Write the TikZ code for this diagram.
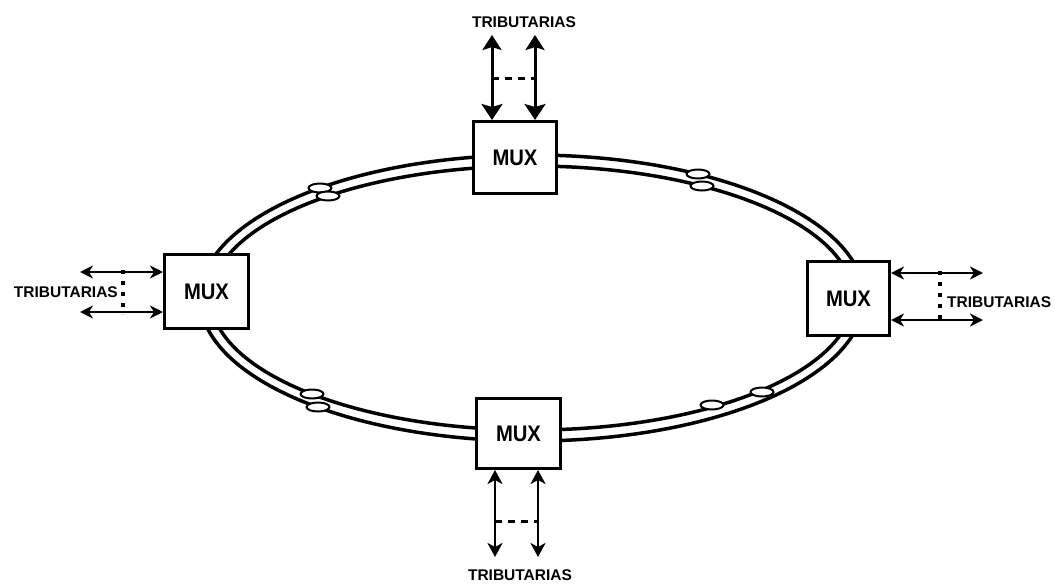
\documentclass[tikz,border=0pt]{standalone}
\usepackage{fontspec}
\setmainfont{Liberation Sans}
\newfontfamily\muxfont[FakeStretch=0.9]{Liberation Sans}
\usetikzlibrary{arrows.meta}
\begin{document}
\begin{tikzpicture}[x=1pt,y=-1pt,
  mux/.style={draw, line width=3pt, fill=white, inner sep=0pt,
    font=\muxfont\fontsize{22.5}{22.5}\selectfont\bfseries},
  trib/.style={inner sep=0pt, font=\fontsize{15.5}{16}\selectfont\bfseries},
  ring/.style={line width=3.5pt},
  oval/.style={draw, line width=2pt, fill=white},
  vbig/.style={{Stealth[length=15pt,width=19pt,inset=3pt]}-{Stealth[length=16pt,width=21pt,inset=3pt]}, line width=3pt},
  vsmall/.style={{Stealth[length=14pt,width=15pt,inset=4pt]}-{Stealth[length=14pt,width=15pt,inset=4pt]}, line width=2.5pt},
  hsmall/.style={{Stealth[length=13pt,width=13pt,inset=4pt]}-{Stealth[length=13pt,width=13pt,inset=4pt]}, line width=2.2pt},
  hdash/.style={line width=3pt, dash pattern=on 7pt off 6pt},
  vdot/.style={line width=3.5pt, dash pattern=on 4pt off 7pt}
]
\useasboundingbox (0,0) rectangle (1055,584);
\fill[white] (0,0) rectangle (1055,584);

% ring
\draw[ring] (532,298) ellipse [x radius=332pt, y radius=143pt];
\draw[ring] (532,298) ellipse [x radius=321pt, y radius=132pt];

% ovals on ring
\draw[oval] (320,188) ellipse [x radius=11.5pt, y radius=4.5pt];
\draw[oval] (328,196) ellipse [x radius=11.5pt, y radius=4.5pt];
\draw[oval] (698,174) ellipse [x radius=11.5pt, y radius=4.5pt];
\draw[oval] (702,186) ellipse [x radius=11.5pt, y radius=4.5pt];
\draw[oval] (312,394) ellipse [x radius=11.5pt, y radius=4.5pt];
\draw[oval] (318,407) ellipse [x radius=11.5pt, y radius=4.5pt];
\draw[oval] (712,405) ellipse [x radius=11.5pt, y radius=4.5pt];
\draw[oval] (762,392) ellipse [x radius=11.5pt, y radius=4.5pt];

% MUX boxes
\node[mux, minimum width=83pt, minimum height=72pt] (top) at (515,157.5) {MUX};
\node[mux, minimum width=84pt, minimum height=74pt] (left) at (206.5,291.5) {MUX};
\node[mux, minimum width=82pt, minimum height=74pt] (right) at (848.5,298.5) {MUX};
\node[mux, minimum width=84pt, minimum height=70pt] (bottom) at (518.5,433.5) {MUX};

% top tributaries
\node[trib] (ttop) at (524,22) {TRIBUTARIAS};
\coordinate (ta) at (492,35);
\coordinate (tb) at (535,35);
\coordinate (tda) at (492,78);
\coordinate (tdb) at (535,78);
\draw[vbig] (ta) -- (ta |- top.north);
\draw[vbig] (tb) -- (tb |- top.north);
\draw[hdash] (tda) -- (tdb);

% bottom tributaries
\node[trib] (tbot) at (520,575) {TRIBUTARIAS};
\coordinate (ba) at (495,557);
\coordinate (bb) at (538,557);
\coordinate (bda) at (495,521);
\coordinate (bdb) at (538,521);
\draw[vsmall] (ba |- bottom.south) -- (ba);
\draw[vsmall] (bb |- bottom.south) -- (bb);
\draw[hdash] (bda) -- (bdb);

% left tributaries
\node[trib, anchor=east] (tleft) at (118,292) {TRIBUTARIAS};
\coordinate (la) at (80,272);
\coordinate (lb) at (80,312);
\coordinate (lda) at (123,270);
\coordinate (ldb) at (123,314);
\draw[hsmall] (la) -- (la -| left.west);
\draw[hsmall] (lb) -- (lb -| left.west);
\draw[vdot] (lda) -- (ldb);

% right tributaries
\node[trib, anchor=west] (tright) at (947,302) {TRIBUTARIAS};
\coordinate (ra) at (983,273);
\coordinate (rb) at (983,320);
\coordinate (rda) at (940,271);
\coordinate (rdb) at (940,322);
\draw[hsmall] (ra -| right.east) -- (ra);
\draw[hsmall] (rb -| right.east) -- (rb);
\draw[vdot] (rda) -- (rdb);
\end{tikzpicture}
\end{document}
